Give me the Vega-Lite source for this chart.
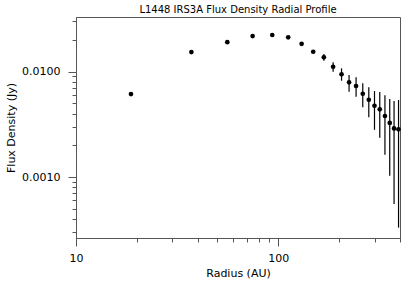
{
  "$schema": "https://vega.github.io/schema/vega-lite/v6.json",
  "width": 324,
  "height": 221,
  "autosize": "none",
  "padding": {"left": 76, "top": 17, "right": 7, "bottom": 47},
  "title": {"text": "L1448 IRS3A Flux Density Radial Profile", "font": "DejaVu Sans", "fontSize": 10, "fontWeight": "normal", "color": "#000", "anchor": "middle", "offset": 0},
  "data": {"values": [
    {"r": 18.7, "flux": 0.00612, "lo": 0.00605, "hi": 0.00619},
    {"r": 37.2, "flux": 0.0153, "lo": 0.0151, "hi": 0.0155},
    {"r": 56.0, "flux": 0.0190, "lo": 0.0188, "hi": 0.0192},
    {"r": 74.7, "flux": 0.0217, "lo": 0.0214, "hi": 0.0220},
    {"r": 93.4, "flux": 0.0222, "lo": 0.0219, "hi": 0.0225},
    {"r": 112.0, "flux": 0.0211, "lo": 0.0207, "hi": 0.0215},
    {"r": 130.5, "flux": 0.0183, "lo": 0.0179, "hi": 0.0188},
    {"r": 148.9, "flux": 0.0154, "lo": 0.0149, "hi": 0.0159},
    {"r": 168.1, "flux": 0.01364, "lo": 0.01266, "hi": 0.01465},
    {"r": 186.8, "flux": 0.0111, "lo": 0.00996, "hi": 0.01222},
    {"r": 205.6, "flux": 0.00943, "lo": 0.00818, "hi": 0.01072},
    {"r": 224.0, "flux": 0.0079, "lo": 0.00643, "hi": 0.00926},
    {"r": 242.6, "flux": 0.00729, "lo": 0.00577, "hi": 0.00881},
    {"r": 261.8, "flux": 0.00616, "lo": 0.00458, "hi": 0.00773},
    {"r": 280.4, "flux": 0.0054, "lo": 0.00368, "hi": 0.00709},
    {"r": 299.2, "flux": 0.00474, "lo": 0.0028, "hi": 0.00653},
    {"r": 317.7, "flux": 0.00438, "lo": 0.00235, "hi": 0.00639},
    {"r": 337.0, "flux": 0.00379, "lo": 0.00163, "hi": 0.00595},
    {"r": 355.9, "flux": 0.00326, "lo": 0.00103, "hi": 0.00549},
    {"r": 373.8, "flux": 0.00289, "lo": 0.000555, "hi": 0.00525},
    {"r": 393.4, "flux": 0.00283, "lo": 0.000331, "hi": 0.00537}
  ]},
  "encoding": {
    "x": {
      "field": "r", "type": "quantitative",
      "scale": {"type": "log", "domain": [10, 400], "nice": false},
      "axis": {
        "title": "Radius (AU)",
        "values": [10, 20, 30, 40, 50, 60, 70, 80, 90, 100, 200, 300, 400],
        "labelExpr": "(datum.value == 10 || datum.value == 100) ? format(datum.value, 'd') : ''",
        "tickSize": {"condition": {"test": "datum.value == 10 || datum.value == 100", "value": 8}, "value": 4},
        "labelPadding": 6,
        "titlePadding": 4,
        "labelFlush": false,
        "labelOverlap": false
      }
    }
  },
  "layer": [
    {
      "mark": {"type": "rule", "color": "#000", "strokeWidth": 1.2},
      "encoding": {
        "y": {
          "field": "lo", "type": "quantitative",
          "scale": {"type": "log", "domain": [0.000264, 0.0329], "nice": false},
          "axis": {
            "title": "Flux Density (Jy)",
            "values": [0.0003, 0.0004, 0.0005, 0.0006, 0.0007, 0.0008, 0.0009, 0.001, 0.002, 0.003, 0.004, 0.005, 0.006, 0.007, 0.008, 0.009, 0.01, 0.02, 0.03],
            "labelExpr": "(datum.value == 0.01 || datum.value == 0.001) ? format(datum.value, '.4f') : ''",
            "tickSize": {"condition": {"test": "datum.value == 0.01 || datum.value == 0.001", "value": 8}, "value": 4},
            "labelPadding": 8,
            "titlePadding": 5,
            "labelOverlap": false
          }
        },
        "y2": {"field": "hi"}
      }
    },
    {
      "mark": {"type": "point", "filled": true, "color": "#000", "opacity": 1, "size": 22},
      "encoding": {
        "y": {
          "field": "flux", "type": "quantitative",
          "scale": {"type": "log", "domain": [0.000264, 0.0329], "nice": false},
          "axis": {
            "title": "Flux Density (Jy)",
            "values": [0.0003, 0.0004, 0.0005, 0.0006, 0.0007, 0.0008, 0.0009, 0.001, 0.002, 0.003, 0.004, 0.005, 0.006, 0.007, 0.008, 0.009, 0.01, 0.02, 0.03],
            "labelExpr": "(datum.value == 0.01 || datum.value == 0.001) ? format(datum.value, '.4f') : ''",
            "tickSize": {"condition": {"test": "datum.value == 0.01 || datum.value == 0.001", "value": 8}, "value": 4},
            "labelPadding": 8,
            "titlePadding": 5,
            "labelOverlap": false
          }
        }
      }
    }
  ],
  "config": {
    "font": "DejaVu Sans",
    "view": {"stroke": "#555", "strokeWidth": 1},
    "axis": {
      "grid": false,
      "domainColor": "#555",
      "tickColor": "#555",
      "labelColor": "#000",
      "titleColor": "#000",
      "labelFont": "DejaVu Sans",
      "titleFont": "DejaVu Sans",
      "labelFontSize": 11,
      "titleFontSize": 11,
      "titleFontWeight": "normal"
    }
  }
}
